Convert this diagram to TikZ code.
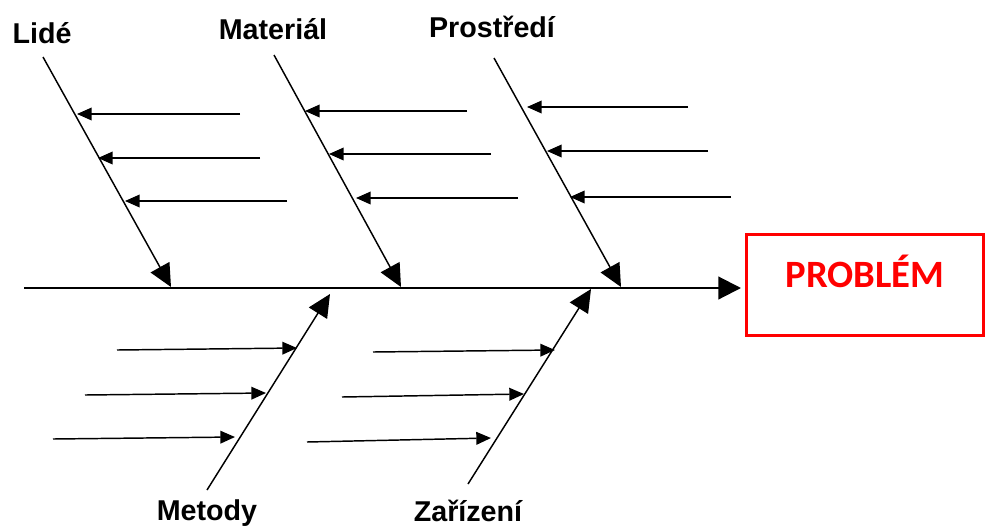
\documentclass[tikz,border=0pt]{standalone}
\usepackage{fontspec}
\setmainfont{Liberation Sans}
\newfontfamily\probfont{Carlito}
\usetikzlibrary{arrows.meta}
\begin{document}
\begin{tikzpicture}[x=0.75pt,y=-0.75pt,
  spine/.style={line width=1.6pt,-{Triangle[length=17pt,width=17pt]}},
  bone/.style={line width=1.1pt,-{Triangle[length=17pt,width=16pt]}},
  cause/.style={line width=1.1pt,-{Triangle[length=11pt,width=9.5pt]}},
  cat/.style={font=\fontsize{21.5}{24}\selectfont\bfseries,inner sep=0pt},
  problem/.style={draw=red,line width=2.2pt,minimum width=178pt,minimum height=76pt,inner sep=0pt},
  probtext/.style={font=\probfont\fontsize{29}{32}\selectfont\bfseries,text=red,inner sep=0pt}]
\useasboundingbox (0,0) rectangle (986,526);

% effect box
\node[problem, label={[probtext,yshift=10.5pt]center:PROBLÉM}] (prob) at (865,285) {};

% main spine
\coordinate (spineS) at (24,288);
\coordinate (spineE) at (741,288);
\draw[spine] (spineS) -- (spineE);

% category labels
\node[cat] (lide) at (42,33) {Lidé};
\node[cat] (mat) at (273,29) {Materiál};
\node[cat] (pros) at (492,27) {Prostředí};
\node[cat] (met) at (207,513) {Metody};
\node[cat] (zar) at (468,511) {Zařízení};

% bones: start and tip
\coordinate (lideS) at (43,57);   \coordinate (lideT) at (171,287);
\coordinate (matS) at (274,55);   \coordinate (matT) at (401,287);
\coordinate (prosS) at (494,58);  \coordinate (prosT) at (621,287);
\coordinate (metS) at (207,490);  \coordinate (metT) at (330,294);
\coordinate (zarS) at (468,484);  \coordinate (zarT) at (591,289);
\foreach \b in {lide,mat,pros,met,zar}
  \draw[bone] (\b S) -- (\b T);

% cause arrows: name / start / end
\foreach \n/\sx/\sy/\ex/\ey in {
    l1/240/114/77/114, l2/260/158/98/158, l3/287/201/125/201,
    m1/467/111/305/111, m2/491/154/329/154, m3/518/198/356/198,
    p1/688/107/527/107, p2/708/151/547/151, p3/731/197/570/197,
    t1/117/350/297/348, t2/85/395/266/393, t3/53/439/235/437,
    z1/373/352/555/350, z2/342/397/524/394, z3/307/442/491/438}{
  \coordinate (\n S) at (\sx,\sy);
  \coordinate (\n E) at (\ex,\ey);
  \draw[cause] (\n S) -- (\n E);
}
\end{tikzpicture}
\end{document}
